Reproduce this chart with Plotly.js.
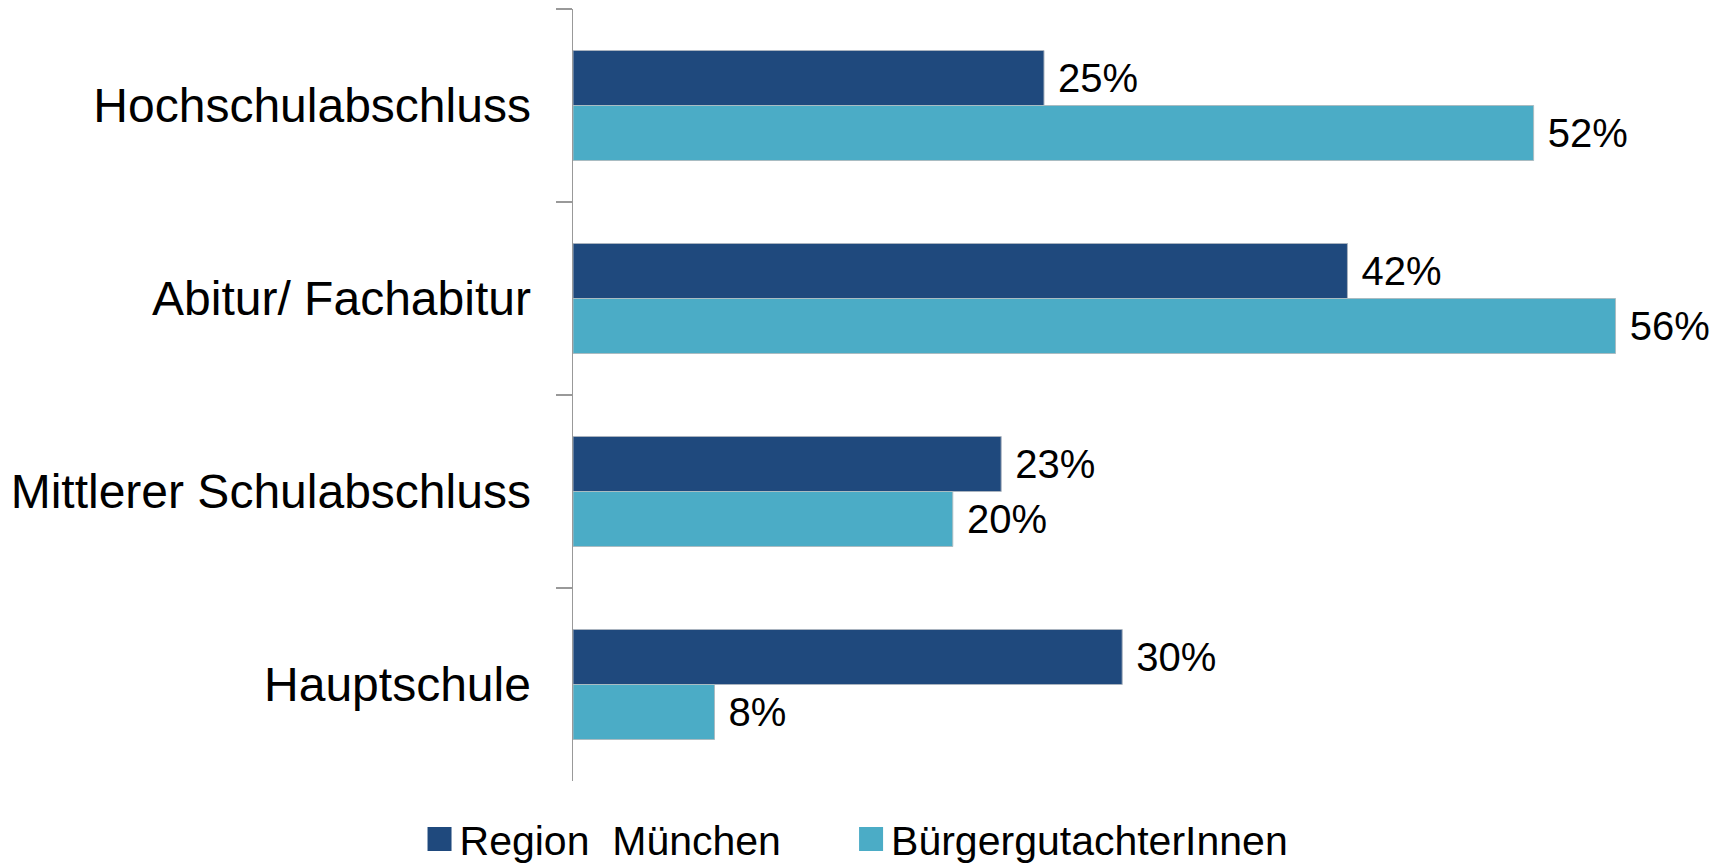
<!DOCTYPE html>
<html>
<head>
<meta charset="utf-8">
<script src="https://cdn.plot.ly/plotly-3.0.1.min.js"></script>
<style>
  html, body { margin: 0; padding: 0; background: #ffffff; }
  #chart { width: 1727px; height: 866px; }
</style>
</head>
<body>
<div id="chart"></div>
<script>
// Categories, top to bottom
const categories = ["Hochschulabschluss", "Abitur/ Fachabitur", "Mittlerer Schulabschluss", "Hauptschule"];
// Series names
const seriesNames = ["Region  München", "BürgergutachterInnen"];
// Values in percent (labels show them rounded)
const regionMuenchen = [25.3, 41.6, 23.0, 29.5];
const buergergutachter = [51.6, 56.0, 20.4, 7.6];

const FONT = "Liberation Sans, Arial, sans-serif";
const NBSP = "\u00a0";

const traces = [
  {
    type: "bar",
    orientation: "h",
    name: seriesNames[0] + NBSP.repeat(5) + "\u2009",
    y: categories,
    x: regionMuenchen,
    marker: { color: "#1F497D", line: { color: "#a9b3bf", width: 1 } },
    texttemplate: NBSP + "%{x:.0f}%",
    textposition: "outside",
    cliponaxis: false,
    textfont: { family: FONT, size: 40, color: "#000000" },
    hoverinfo: "skip"
  },
  {
    type: "bar",
    orientation: "h",
    name: seriesNames[1],
    y: categories,
    x: buergergutachter,
    marker: { color: "#4BACC6", line: { color: "#a9bcc2", width: 1 } },
    texttemplate: NBSP + "%{x:.0f}%",
    textposition: "outside",
    cliponaxis: false,
    textfont: { family: FONT, size: 40, color: "#000000" },
    hoverinfo: "skip"
  }
];

const layout = {
  width: 1727,
  height: 866,
  paper_bgcolor: "#ffffff",
  plot_bgcolor: "#ffffff",
  margin: { l: 573, r: 37, t: 9, b: 85, pad: 0, autoexpand: false },
  barmode: "group",
  bargap: 0.43,
  bargroupgap: 0,
  font: { family: FONT, color: "#000000" },
  xaxis: {
    range: [0, 60],
    showgrid: false,
    zeroline: false,
    showline: false,
    showticklabels: false,
    ticks: "",
    fixedrange: true
  },
  yaxis: {
    type: "category",
    categoryorder: "array",
    categoryarray: categories,
    autorange: "reversed",
    showgrid: false,
    zeroline: false,
    showline: true,
    linecolor: "#999999",
    linewidth: 1.5,
    ticks: "outside",
    tickson: "boundaries",
    ticklen: 16,
    tickwidth: 1.5,
    tickcolor: "#999999",
    ticklabelstandoff: 31,
    tickfont: { family: FONT, size: 48, color: "#000000" },
    fixedrange: true
  },
  showlegend: true,
  legend: {
    orientation: "h",
    x: -0.1374,
    xanchor: "left",
    y: -0.0755,
    yanchor: "middle",
    font: { family: FONT, size: 41, color: "#000000" },
    bgcolor: "rgba(0,0,0,0)",
    traceorder: "normal"
  }
};

Plotly.newPlot("chart", traces, layout, { displayModeBar: false, staticPlot: true }).then(function (gd) {
  // enlarge legend colour squares to match the reference
  gd.querySelectorAll(".legend .legendpoints path").forEach(function (p) {
    p.setAttribute("d", "M12,12H-12V-12H12Z");
    p.style.strokeWidth = "0px";
  });
});
</script>
</body>
</html>
